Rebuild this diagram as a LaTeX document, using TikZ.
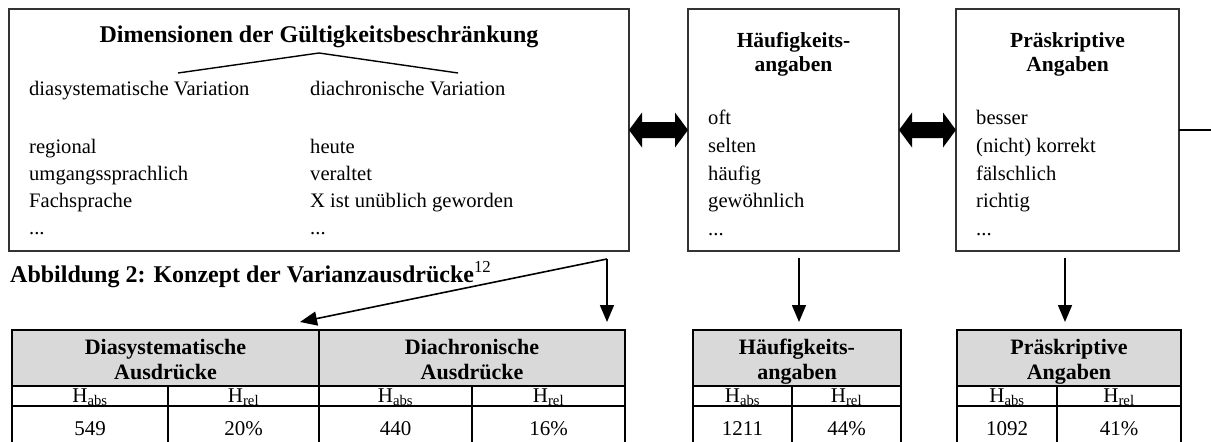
\documentclass[tikz,border=0pt]{standalone}
\usepackage{fontspec}
\setmainfont{Liberation Serif}
\usetikzlibrary{arrows.meta,calc}
\definecolor{hdrgray}{HTML}{D9D9D9}
\definecolor{boxline}{HTML}{333333}
\begin{document}
\begin{tikzpicture}[x=1pt,y=-1pt,
  frame/.style={draw=boxline,line width=1.4pt,anchor=north west,inner sep=0pt,outer sep=0pt},
  bodytxt/.style={anchor=base west,inner sep=0pt,font=\fontsize{20.6}{25}\selectfont},
  titletxt/.style={anchor=base,inner sep=0pt,font=\fontsize{24}{28}\bfseries\selectfont},
  boxhead/.style={anchor=base,inner sep=0pt,font=\fontsize{21.5}{26}\bfseries\selectfont},
  headtxt/.style={anchor=base,inner sep=0pt,font=\fontsize{22}{26}\bfseries\selectfont},
  celltxt/.style={anchor=base,inner sep=0pt,font=\fontsize{21}{25}\selectfont},
  hcell/.style={draw=black,fill=hdrgray,line width=1.5pt,anchor=north west,inner sep=0pt,outer sep=0pt},
  gridline/.style={draw=black,line width=1.5pt},
  arr/.style={draw=black,line width=1.6pt,-{Triangle[length=17pt,width=14pt]}},
  link/.style={draw=black,line width=1.4pt}
]
\useasboundingbox (0,0) rectangle (1211,442);
\fill[white] (0,0) rectangle (1211,442);

% ---------- upper boxes ----------
\node[frame,minimum width=620pt,minimum height=242pt] (b1) at (9,9) {};
\node[frame,minimum width=211pt,minimum height=242pt] (b2) at (688,9) {};
\node[frame,minimum width=223pt,minimum height=242pt] (b3) at (956,9) {};

% box 1: dimensions of restriction
\node[titletxt] (ttl) at (319,42) {Dimensionen der Gültigkeitsbeschränkung};
\coordinate (apex) at (319,53);
\coordinate (armL) at (178,73);
\coordinate (armR) at (458,73);
\draw[link] (armL) -- (apex) -- (armR);

\node[bodytxt] (dsv) at (29,95) {diasystematische Variation};
\node[bodytxt] (dcv) at (310,95) {diachronische Variation};
\node[bodytxt] (l1) at (29,153) {regional};
\node[bodytxt] (l2) at (29,180) {umgangssprachlich};
\node[bodytxt] (l3) at (29,207) {Fachsprache};
\node[bodytxt] (l4) at (29,234) {...};
\node[bodytxt] (r1) at (310,153) {heute};
\node[bodytxt] (r2) at (310,180) {veraltet};
\node[bodytxt] (r3) at (310,207) {X ist unüblich geworden};
\node[bodytxt] (r4) at (310,234) {...};

% box 2: frequency
\node[boxhead] (h2a) at (793.5,47) {Häufigkeits-};
\node[boxhead] (h2b) at (793.5,71) {angaben};
\node[bodytxt] (f1) at (708,124) {oft};
\node[bodytxt] (f2) at (708,152) {selten};
\node[bodytxt] (f3) at (708,180) {häufig};
\node[bodytxt] (f4) at (708,207) {gewöhnlich};
\node[bodytxt] (f5) at (708,235) {...};

% box 3: prescriptive
\node[boxhead] (h3a) at (1067.5,47) {Präskriptive};
\node[boxhead] (h3b) at (1067.5,71) {Angaben};
\node[bodytxt] (p1) at (976,124) {besser};
\node[bodytxt] (p2) at (976,152) {(nicht) korrekt};
\node[bodytxt] (p3) at (976,180) {fälschlich};
\node[bodytxt] (p4) at (976,207) {richtig};
\node[bodytxt] (p5) at (976,235) {...};

% block double arrows between boxes
\foreach \a/\b in {b1/b2,b2/b3}{
  \fill[black] (\a.east) -- ($(\a.east)+(13,-17.5)$) -- ($(\a.east)+(13,-8)$)
    -- ($(\b.west)+(-13,-8)$) -- ($(\b.west)+(-13,-17.5)$) -- (\b.west)
    -- ($(\b.west)+(-13,17.5)$) -- ($(\b.west)+(-13,8)$)
    -- ($(\a.east)+(13,8)$) -- ($(\a.east)+(13,17.5)$) -- cycle;
}
\coordinate (outR) at (1211,130);
\draw[link] (b3.east) -- (outR);

% caption
\node[anchor=base west,inner sep=0pt,font=\fontsize{24}{28}\bfseries\selectfont] (cap) at (10,282)
  {Abbildung 2: Konzept der Varianzausdrücke\textsuperscript{\normalfont 12}};

% ---------- tables ----------
% table 1
\node[hcell,minimum width=307pt,minimum height=56pt] (th1) at (12,330) {};
\node[hcell,minimum width=306pt,minimum height=56pt] (th2) at (319,330) {};
\draw[gridline] (12,386) -- (12,442) (168,386) -- (168,442) (319,386) -- (319,442)
  (472,386) -- (472,442) (625,386) -- (625,442) (12,406) -- (625,406);
\node[headtxt] (t1a) at (165.5,354) {Diasystematische};
\node[headtxt] (t1b) at (165.5,379) {Ausdrücke};
\node[headtxt] (t1c) at (472,354) {Diachronische};
\node[headtxt] (t1d) at (472,379) {Ausdrücke};
\node[celltxt] (c11) at (90,402) {H\textsubscript{abs}};
\node[celltxt] (c12) at (243.5,402) {H\textsubscript{rel}};
\node[celltxt] (c13) at (395.5,402) {H\textsubscript{abs}};
\node[celltxt] (c14) at (548.5,402) {H\textsubscript{rel}};
\node[celltxt] (n11) at (90,435) {549};
\node[celltxt] (n12) at (243.5,435) {20\%};
\node[celltxt] (n13) at (395.5,435) {440};
\node[celltxt] (n14) at (548.5,435) {16\%};

% table 2
\node[hcell,minimum width=208pt,minimum height=56pt] (th3) at (693,330) {};
\draw[gridline] (693,386) -- (693,442) (792,386) -- (792,442) (901,386) -- (901,442)
  (693,406) -- (901,406);
\node[headtxt] (t2a) at (797,354) {Häufigkeits-};
\node[headtxt] (t2b) at (797,379) {angaben};
\node[celltxt] (c21) at (742.5,402) {H\textsubscript{abs}};
\node[celltxt] (c22) at (846.5,402) {H\textsubscript{rel}};
\node[celltxt] (n21) at (742.5,435) {1211};
\node[celltxt] (n22) at (846.5,435) {44\%};

% table 3
\node[hcell,minimum width=224pt,minimum height=56pt] (th4) at (957,330) {};
\draw[gridline] (957,386) -- (957,442) (1057,386) -- (1057,442) (1181,386) -- (1181,442)
  (957,406) -- (1181,406);
\node[headtxt] (t3a) at (1069,354) {Präskriptive};
\node[headtxt] (t3b) at (1069,379) {Angaben};
\node[celltxt] (c31) at (1007,402) {H\textsubscript{abs}};
\node[celltxt] (c32) at (1119,402) {H\textsubscript{rel}};
\node[celltxt] (n31) at (1007,435) {1092};
\node[celltxt] (n32) at (1119,435) {41\%};

% ---------- arrows from boxes to tables ----------
\coordinate (o1) at (607,259);
\coordinate (d1) at (300,322);
\draw[arr] (o1) -- (d1);
\draw[arr,shorten >=8pt] (o1) -- (o1 |- th2.north);
\coordinate (o2) at (799,258);
\draw[arr,shorten >=8pt] (o2) -- (o2 |- th3.north);
\coordinate (o3) at (1065,258);
\draw[arr,shorten >=8pt] (o3) -- (o3 |- th4.north);
\end{tikzpicture}
\end{document}
